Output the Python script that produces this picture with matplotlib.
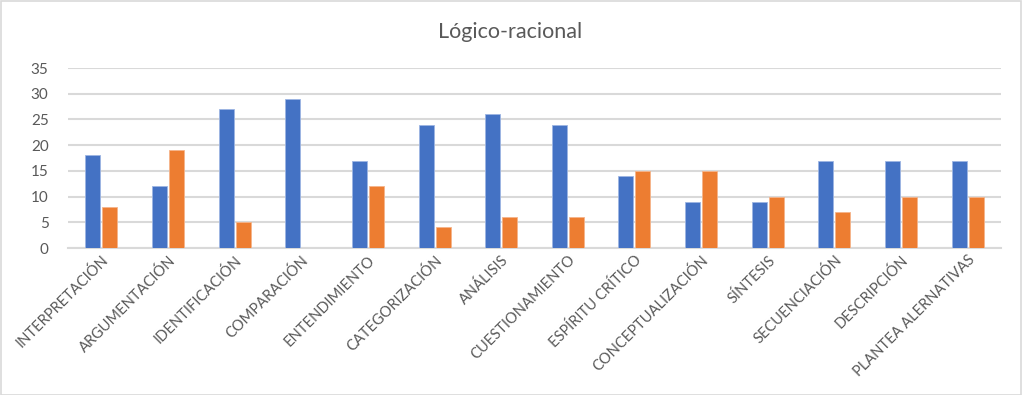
import matplotlib
matplotlib.use("Agg")
import matplotlib.pyplot as plt
import numpy as np

categories = ["INTERPRETACIÓN", "ARGUMENTACIÓN", "IDENTIFICACIÓN", "COMPARACIÓN",
              "ENTENDIMIENTO", "CATEGORIZACIÓN", "ANÁLISIS", "CUESTIONAMIENTO",
              "ESPÍRITU CRÍTICO", "CONCEPTUALIZACIÓN", "SÍNTESIS", "SECUENCIACIÓN",
              "DESCRIPCIÓN", "PLANTEA ALERNATIVAS"]
serie_azul = [18, 12, 27, 29, 17, 24, 26, 24, 14, 9, 9, 17, 17, 17]
serie_naranja = [8, 19, 5, 0, 12, 4, 6, 6, 15, 15, 10, 7, 10, 10]
yticks = [0, 5, 10, 15, 20, 25, 30, 35]

plt.rcParams['font.family'] = ['Lato', 'DejaVu Sans']
W, H = 1022, 395
fig = plt.figure(figsize=(W / 100, H / 100), dpi=100)
ax = fig.add_axes([68 / W, 1 - 248 / H, (1001 - 68) / W, (248 - 68) / H])

x = np.arange(len(categories))
bw = 0.225
gap = 0.03
ax.bar(x - bw / 2 - gap / 2, serie_azul, width=bw, color="#4472C4", edgecolor="#9DB5E3", linewidth=0.6, zorder=3)
ax.bar(x + bw / 2 + gap / 2, serie_naranja, width=bw, color="#ED7D31", edgecolor="#F5B48A", linewidth=0.6, zorder=3)

ax.set_xlim(-0.5, len(categories) - 0.5)
ax.set_ylim(0, 35)
ax.set_yticks(yticks)
ax.yaxis.grid(True, color="#D9D9D9", linewidth=1.5, zorder=0)
ax.set_axisbelow(True)
for s in ["top", "right", "left"]:
    ax.spines[s].set_visible(False)
ax.spines["bottom"].set_color("#D9D9D9")
ax.spines["bottom"].set_linewidth(1.5)
ax.tick_params(axis="both", length=0, colors="#595959", labelsize=11)
ax.tick_params(axis="y", pad=14)
ax.set_xticks(x)
ax.set_xticklabels(categories, rotation=45, ha="right", rotation_mode="anchor", fontsize=10.5, color="#595959")

fig.text(510 / W, 1 - 32 / H, "Lógico-racional", ha="center", va="center", fontsize=15.5, color="#595959")

border = plt.Rectangle((0.5 / W, 0.5 / H), 1 - 1.5 / W, 1 - 1.5 / H, transform=fig.transFigure,
                       fill=False, edgecolor="#D9D9D9", linewidth=1.2)
fig.patches.append(border)

fig.savefig("out.png", dpi=100)
